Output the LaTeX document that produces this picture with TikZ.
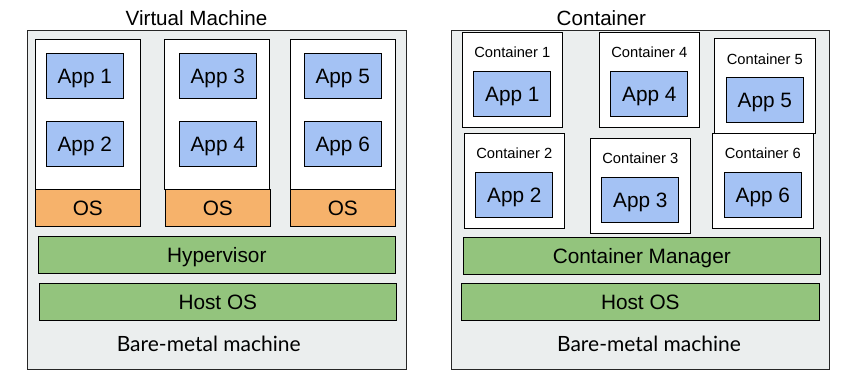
\documentclass[tikz,border=0pt]{standalone}
\usepackage{fontspec}
\setmainfont{Liberation Sans}
\newfontfamily\latofont{Lato}
\usetikzlibrary{positioning}

\definecolor{bmgray}{HTML}{EBEEEE}
\definecolor{appblue}{HTML}{A4C2F4}
\definecolor{osorange}{HTML}{F6B26B}
\definecolor{layergreen}{HTML}{93C47D}

\begin{document}
\begin{tikzpicture}[
  x=1pt, y=-1pt,
  every node/.style={inner sep=0pt},
  big/.style={font=\fontsize{20.8}{25}\selectfont, text height=14.9pt, text depth=0pt},
  small/.style={font=\fontsize{14.7}{17}\selectfont, text height=10.5pt, text depth=0pt},
  ttl/.style={font=\fontsize{20.6}{25}\selectfont},
  bmlbl/.style={font=\latofont\fontsize{21}{25}\selectfont, text height=14.7pt, text depth=0pt},
  panel/.style={draw=black!85, fill=bmgray, line width=0.8pt},
  vmbox/.style={draw=black, fill=white, line width=0.8pt,
    minimum width=105pt, minimum height=150pt},
  osbox/.style={big, draw=black, fill=osorange, line width=0.8pt,
    minimum width=105pt, minimum height=36.7pt},
  appbox/.style={big, draw=black, fill=appblue, line width=0.8pt,
    minimum width=77pt, minimum height=45pt},
  ctrbox/.style={draw=black, fill=white, line width=0.8pt,
    minimum width=100pt, minimum height=95pt},
  layer/.style={big, draw=black, fill=layergreen, line width=0.8pt,
    minimum width=357pt, minimum height=36.7pt},
]
\useasboundingbox (0,0) rectangle (845,381);

% ===== LEFT: VIRTUAL MACHINES =====
\node[panel, minimum width=379pt, minimum height=339pt] (vmbm) at (217,200.3) {};
\node[ttl, anchor=base] (vmttl) at (196.5,25) {Virtual Machine};

% guest machines
\node[vmbox] (vm1) at (87.8,114.3) {};
\node[vmbox] (vm2) at (216.8,114.3) {};
\node[vmbox] (vm3) at (342.8,114.3) {};
\node[osbox] (os1) at (87.8,207.7) {OS};
\node[osbox] (os2) at (217.8,207.7) {OS};
\node[osbox] (os3) at (342.8,207.7) {OS};

\node[appbox] (vapp1) at (84.8,75.8) {App 1};
\node[appbox] (vapp2) at (84.8,143.7) {App 2};
\node[appbox] (vapp3) at (217.8,75.8) {App 3};
\node[appbox] (vapp4) at (217.8,143.7) {App 4};
\node[appbox] (vapp5) at (342.7,75.8) {App 5};
\node[appbox] (vapp6) at (342.7,143.7) {App 6};

% shared layers
\node[layer] (hyper) at (216.8,255) {Hypervisor};
\node[layer] (vmhost) at (217.8,302) {Host OS};
\node[bmlbl] (vmbmlbl) at (208.7,343.7) {Bare-metal machine};

% ===== RIGHT: CONTAINERS =====
\node[panel, minimum width=378pt, minimum height=339pt] (ctbm) at (640.3,200.3) {};
\node[ttl, anchor=base] (ctttl) at (601.4,25) {Container};

% top row
\node[ctrbox] (c1) at (512.3,79.8) {};
\node[small, below=15.2pt of c1.north] (c1lbl) {Container 1};
\node[appbox, below=39pt of c1.north] (capp1) {App 1};

\node[ctrbox] (c4) at (649.3,79.8) {};
\node[small, below=15.2pt of c4.north] (c4lbl) {Container 4};
\node[appbox, below=39pt of c4.north] (capp4) {App 4};

\node[ctrbox, minimum width=101pt] (c5) at (764.8,86) {};
\node[small, below=15.2pt of c5.north] (c5lbl) {Container 5};
\node[appbox, below=39pt of c5.north] (capp5) {App 5};

% bottom row
\node[ctrbox] (c2) at (514.3,180.8) {};
\node[small, below=15.2pt of c2.north] (c2lbl) {Container 2};
\node[appbox, below=39pt of c2.north] (capp2) {App 2};

\node[ctrbox] (c3) at (640.3,185.7) {};
\node[small, below=15.2pt of c3.north] (c3lbl) {Container 3};
\node[appbox, below=39pt of c3.north] (capp3) {App 3};

\node[ctrbox, minimum width=101pt] (c6) at (762.8,180.8) {};
\node[small, below=15.2pt of c6.north] (c6lbl) {Container 6};
\node[appbox, below=39pt of c6.north] (capp6) {App 6};

% shared layers
\node[layer] (cmgr) at (641.8,255.8) {Container Manager};
\node[layer, minimum width=358pt] (cthost) at (640.3,301.8) {Host OS};
\node[bmlbl] (ctbmlbl) at (649,343.7) {Bare-metal machine};

\end{tikzpicture}
\end{document}
